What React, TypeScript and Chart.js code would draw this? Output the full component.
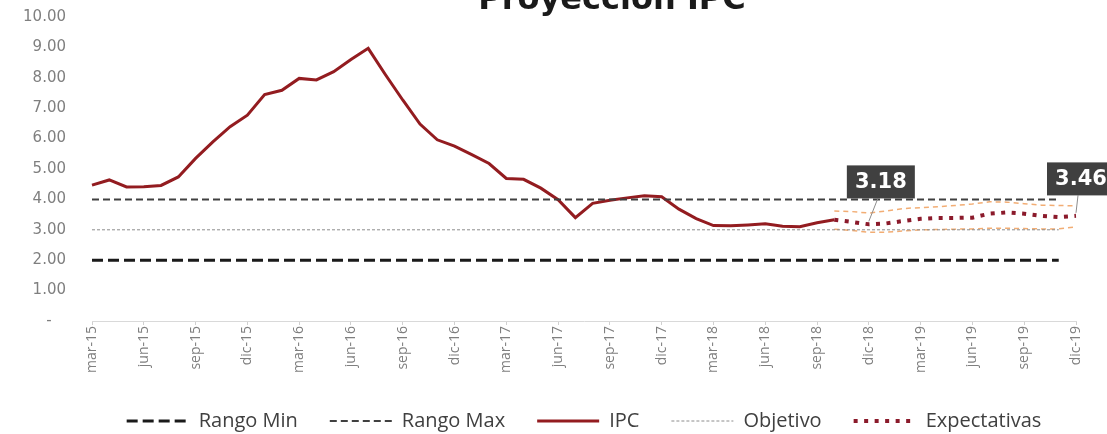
import React, { useEffect, useRef } from 'react';
import { Chart, registerables } from 'chart.js';

Chart.register(...registerables);

const TITLE = 'Proyección IPC';

const MONTHS = [
  'mar-15', 'abr-15', 'may-15', 'jun-15', 'jul-15', 'ago-15', 'sep-15', 'oct-15', 'nov-15', 'dic-15',
  'ene-16', 'feb-16', 'mar-16', 'abr-16', 'may-16', 'jun-16', 'jul-16', 'ago-16', 'sep-16', 'oct-16', 'nov-16', 'dic-16',
  'ene-17', 'feb-17', 'mar-17', 'abr-17', 'may-17', 'jun-17', 'jul-17', 'ago-17', 'sep-17', 'oct-17', 'nov-17', 'dic-17',
  'ene-18', 'feb-18', 'mar-18', 'abr-18', 'may-18', 'jun-18', 'jul-18', 'ago-18', 'sep-18', 'oct-18', 'nov-18', 'dic-18',
  'ene-19', 'feb-19', 'mar-19', 'abr-19', 'may-19', 'jun-19', 'jul-19', 'ago-19', 'sep-19', 'oct-19', 'nov-19', 'dic-19',
];

// IPC, mar-15 .. oct-18
const IPC = [
  4.47, 4.64, 4.41, 4.42, 4.46, 4.74, 5.35, 5.89, 6.39, 6.77,
  7.45, 7.59, 7.98, 7.93, 8.20, 8.60, 8.97, 8.10, 7.27, 6.48, 5.96, 5.75,
  5.47, 5.18, 4.69, 4.66, 4.37, 3.99, 3.40, 3.87, 3.97, 4.05, 4.12, 4.09,
  3.68, 3.37, 3.14, 3.13, 3.16, 3.20, 3.12, 3.10, 3.23, 3.33,
];

// Expectativas, oct-18 .. dic-19
const EXP_START = 'oct-18';
const EXPECTATIVAS = [3.33, 3.26, 3.18, 3.21, 3.29, 3.36, 3.39, 3.39, 3.40, 3.53, 3.57, 3.53, 3.46, 3.42, 3.46];
const EXP_UPPER = [3.62, 3.60, 3.55, 3.62, 3.70, 3.73, 3.76, 3.80, 3.85, 3.92, 3.91, 3.86, 3.81, 3.80, 3.79];
const EXP_LOWER = [3.02, 2.98, 2.92, 2.92, 2.96, 3.00, 3.01, 3.02, 3.03, 3.05, 3.05, 3.04, 3.03, 3.03, 3.10];

const RANGO_MIN = 2.0;
const RANGO_MAX = 4.0;
const OBJETIVO = 3.0;
const LEVEL_START = 'mar-15';
const LEVEL_END = 'nov-19';

const Y_MIN = 0;
const Y_MAX = 10;
const Y_STEP = 1;
const TICK_EVERY = 3;

const CALLOUT_POINTS = ['dic-18', 'dic-19'];
const CALLOUT_VALUES = [3.18, 3.46];

function pad(startLabel: string, values: number[]) {
  const start = MONTHS.indexOf(startLabel);
  const out: (number | null)[] = MONTHS.map(() => null);
  values.forEach((v, i) => { out[start + i] = v; });
  return out;
}

function level(v: number) {
  return [{ x: LEVEL_START, y: v }, { x: LEVEL_END, y: v }];
}

const titlePlugin = {
  id: 'cutTitle',
  afterDraw(chart: any) {
    const ctx = chart.ctx;
    ctx.save();
    ctx.font = 'bold 32px "DejaVu Sans"';
    ctx.fillStyle = '#1a1a1a';
    ctx.textAlign = 'center';
    ctx.textBaseline = 'alphabetic';
    ctx.fillText(TITLE, 612, 9);
    ctx.restore();
  },
};

const calloutPlugin = {
  id: 'callouts',
  afterDatasetsDraw(chart: any) {
    const ctx = chart.ctx;
    const xs = chart.scales.x;
    const ys = chart.scales.y;
    const ref4 = ys.getPixelForValue(RANGO_MAX);
    const geom = [
      { dxBox: -22, dyTop: -34, dxLead: 9 },
      { dxBox: -29, dyTop: -37, dxLead: 2 },
    ];
    CALLOUT_POINTS.forEach((lab, i) => {
      const idx = MONTHS.indexOf(lab);
      const px = xs.getPixelForValue(idx);
      const py = ys.getPixelForValue(CALLOUT_VALUES[i]);
      const g = geom[i];
      const w = 68;
      const h = 33;
      const top = ref4 + g.dyTop;
      const left = px + g.dxBox;
      ctx.save();
      ctx.strokeStyle = '#8c8c8c';
      ctx.lineWidth = 1;
      ctx.beginPath();
      ctx.moveTo(px + g.dxLead, top + h);
      ctx.lineTo(px, py - 3);
      ctx.stroke();
      ctx.fillStyle = '#404040';
      ctx.fillRect(left, top, w, h);
      ctx.fillStyle = '#ffffff';
      ctx.font = 'bold 21px "DejaVu Sans"';
      ctx.textAlign = 'center';
      ctx.textBaseline = 'middle';
      ctx.fillText(CALLOUT_VALUES[i].toFixed(2), left + w / 2, top + h / 2 + 1);
      ctx.restore();
    });
  },
};

export default function App() {
  const ref = useRef<HTMLCanvasElement | null>(null);

  useEffect(() => {
    if (!ref.current) return;
    const chart = new Chart(ref.current, {
      type: 'line',
      data: {
        labels: MONTHS,
        datasets: [
          {
            label: 'Rango Min',
            data: level(RANGO_MIN) as any,
            borderColor: '#1a1a1a',
            backgroundColor: '#1a1a1a',
            borderWidth: 3,
            borderDash: [11, 5],
            pointRadius: 0,
            fill: false,
          },
          {
            label: 'Rango Max',
            data: level(RANGO_MAX) as any,
            borderColor: '#404040',
            backgroundColor: '#404040',
            borderWidth: 2,
            borderDash: [7, 4],
            pointRadius: 0,
            fill: false,
          },
          {
            label: 'IPC',
            data: pad('mar-15', IPC),
            borderColor: '#931c20',
            backgroundColor: '#931c20',
            borderWidth: 3,
            pointRadius: 0,
            tension: 0,
            fill: false,
          },
          {
            label: 'Objetivo',
            data: level(OBJETIVO) as any,
            borderColor: '#8c8c8c',
            backgroundColor: '#8c8c8c',
            borderWidth: 1,
            borderDash: [3, 2],
            pointRadius: 0,
            fill: false,
          },
          {
            label: 'Expectativas',
            data: pad(EXP_START, EXPECTATIVAS),
            borderColor: '#8b1a2b',
            backgroundColor: '#8b1a2b',
            borderWidth: 4,
            borderDash: [4, 6.5],
            pointRadius: 0,
            fill: false,
          },
          {
            label: '',
            data: pad(EXP_START, EXP_UPPER),
            borderColor: '#f2ad74',
            borderWidth: 1.5,
            borderDash: [5, 4],
            pointRadius: 0,
            fill: false,
          },
          {
            label: '',
            data: pad(EXP_START, EXP_LOWER),
            borderColor: '#f2ad74',
            borderWidth: 1.5,
            borderDash: [5, 4],
            pointRadius: 0,
            fill: false,
          },
        ],
      },
      options: {
        animation: false,
        responsive: false,
        devicePixelRatio: 1,
        layout: { padding: { left: 0, right: 31, top: 17, bottom: -7 } },
        scales: {
          x: {
            type: 'category',
            offset: false,
            grid: {
              display: true,
              drawOnChartArea: false,
              drawTicks: true,
              tickLength: 4,
              color: (c: any) => (c.index % TICK_EVERY === 0 ? '#d0d0d0' : 'rgba(0,0,0,0)'),
            },
            border: { display: true, color: '#d9d9d9', width: 1 },
            ticks: {
              autoSkip: false,
              minRotation: 90,
              maxRotation: 90,
              padding: 1,
              color: '#7f7f7f',
              font: { family: '"Open Sans"', size: 14 },
              callback: (_v: any, i: number) => (i % TICK_EVERY === 0 ? MONTHS[i] : ''),
            },
            afterFit: (s: any) => { s.height = 58; },
          },
          y: {
            min: Y_MIN,
            max: Y_MAX,
            grid: { display: false, drawTicks: true, tickLength: 24 },
            border: { display: false },
            ticks: {
              stepSize: Y_STEP,
              padding: 2,
              color: '#7f7f7f',
              font: { family: '"DejaVu Sans"', size: 15 },
              callback: (v: any) => (Number(v) === 0 ? '-   ' : Number(v).toFixed(2)),
            },
            afterFit: (s: any) => { s.width = 92; },
          },
        },
        plugins: {
          title: { display: false },
          tooltip: { enabled: false },
          legend: {
            position: 'bottom',
            fullSize: false,
            labels: {
              usePointStyle: true,
              pointStyle: 'line',
              pointStyleWidth: 62,
              boxHeight: 20,
              padding: 32,
              color: '#404040',
              font: { family: '"Open Sans"', size: 20 },
              filter: (item: any) => item.text !== '',
              generateLabels: (ch: any) => {
                const base = Chart.defaults.plugins.legend.labels.generateLabels(ch);
                return base.map((item: any) => {
                  const ds = ch.data.datasets[item.datasetIndex];
                  return {
                    ...item,
                    lineDash: ds.borderDash || [],
                    lineWidth: ds.borderWidth,
                    strokeStyle: ds.borderColor,
                    fillStyle: ds.borderColor,
                  };
                });
              },
            },
          },
        },
      },
      plugins: [titlePlugin, calloutPlugin],
    });
    return () => chart.destroy();
  }, []);

  return (
    <div style={{ position: 'absolute', left: 0, top: 0, width: 1107, height: 434, background: '#ffffff' }}>
      <canvas ref={ref} width={1107} height={434} />
    </div>
  );
}
